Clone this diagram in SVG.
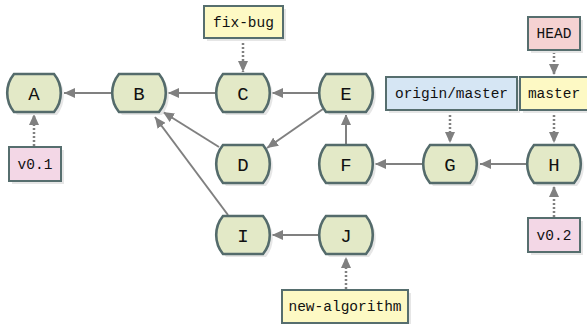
<svg xmlns="http://www.w3.org/2000/svg" width="587" height="324" viewBox="0 0 587 324">
<defs>
<style>
.node text{font-family:"Liberation Mono","DejaVu Sans Mono",monospace;font-size:19px;text-anchor:middle;fill:#111}
.lab rect.s{fill:#e6e6e6}
.lab rect.b{stroke:#566e6e;stroke-width:2}
.lab text{font-family:"Liberation Mono","DejaVu Sans Mono",monospace;font-size:14.5px;text-anchor:middle;fill:#111}
.y{fill:#fdf9c4}.p{fill:#f3d7e6}.r{fill:#f5d2d2}.bl{fill:#d6e6f4}
.e{stroke:#808080;stroke-width:2;fill:none;marker-end:url(#ah)}
.d{stroke:#808080;stroke-width:2.5;stroke-dasharray:2 2;fill:none;marker-end:url(#ah)}
</style>
<marker id="ah" viewBox="0 0 11 10" refX="11" refY="5" markerWidth="11" markerHeight="10" markerUnits="userSpaceOnUse" orient="auto">
<path d="M0,0 L11,5 L0,10 z" fill="#808080"/>
</marker>
<path id="hx" d="M-20,-19 H20 A30 30 0 0 1 20,19 H-20 A30 30 0 0 1 -20,-19 Z"/>
</defs>
<g id="connectors">
<line class="e" x1="111" y1="93" x2="64" y2="93"/>
<line class="e" x1="215" y1="93" x2="168" y2="93"/>
<line class="e" x1="318" y1="93" x2="272" y2="93"/>
<line class="e" x1="323" y1="109" x2="267" y2="148"/>
<line class="e" x1="219" y1="147" x2="163" y2="112"/>
<line class="e" x1="228" y1="215" x2="155" y2="117"/>
<line class="e" x1="346" y1="145" x2="346" y2="114"/>
<line class="e" x1="422" y1="164" x2="375" y2="164"/>
<line class="e" x1="526" y1="164" x2="480" y2="164"/>
<line class="e" x1="318" y1="235" x2="272" y2="235"/>
<line class="d" x1="243" y1="39" x2="243" y2="72"/>
<line class="d" x1="34" y1="146" x2="34" y2="114"/>
<line class="d" x1="554" y1="52" x2="554" y2="75"/>
<line class="d" x1="450" y1="111" x2="450" y2="143"/>
<line class="d" x1="554" y1="111" x2="554" y2="143"/>
<line class="d" x1="554" y1="217" x2="554" y2="186"/>
<line class="d" x1="346" y1="289" x2="346" y2="257"/>
</g>
<g id="A" class="node" transform="translate(34,93)"><use href="#hx" transform="translate(3,3)" fill="#e6e6e6"/><use href="#hx" fill="#e3e9c7" stroke="#546b6b" stroke-width="2.6"/><text y="6.5">A</text></g>
<g id="B" class="node" transform="translate(139,93)"><use href="#hx" transform="translate(3,3)" fill="#e6e6e6"/><use href="#hx" fill="#e3e9c7" stroke="#546b6b" stroke-width="2.6"/><text y="6.5">B</text></g>
<g id="C" class="node" transform="translate(243,93)"><use href="#hx" transform="translate(3,3)" fill="#e6e6e6"/><use href="#hx" fill="#e3e9c7" stroke="#546b6b" stroke-width="2.6"/><text y="6.5">C</text></g>
<g id="D" class="node" transform="translate(243,164)"><use href="#hx" transform="translate(3,3)" fill="#e6e6e6"/><use href="#hx" fill="#e3e9c7" stroke="#546b6b" stroke-width="2.6"/><text y="6.5">D</text></g>
<g id="E" class="node" transform="translate(346,93)"><use href="#hx" transform="translate(3,3)" fill="#e6e6e6"/><use href="#hx" fill="#e3e9c7" stroke="#546b6b" stroke-width="2.6"/><text y="6.5">E</text></g>
<g id="F" class="node" transform="translate(346,164)"><use href="#hx" transform="translate(3,3)" fill="#e6e6e6"/><use href="#hx" fill="#e3e9c7" stroke="#546b6b" stroke-width="2.6"/><text y="6.5">F</text></g>
<g id="G" class="node" transform="translate(450,164)"><use href="#hx" transform="translate(3,3)" fill="#e6e6e6"/><use href="#hx" fill="#e3e9c7" stroke="#546b6b" stroke-width="2.6"/><text y="6.5">G</text></g>
<g id="H" class="node" transform="translate(554,164)"><use href="#hx" transform="translate(3,3)" fill="#e6e6e6"/><use href="#hx" fill="#e3e9c7" stroke="#546b6b" stroke-width="2.6"/><text y="6.5">H</text></g>
<g id="I" class="node" transform="translate(243,235)"><use href="#hx" transform="translate(3,3)" fill="#e6e6e6"/><use href="#hx" fill="#e3e9c7" stroke="#546b6b" stroke-width="2.6"/><text y="6.5">I</text></g>
<g id="J" class="node" transform="translate(346,235)"><use href="#hx" transform="translate(3,3)" fill="#e6e6e6"/><use href="#hx" fill="#e3e9c7" stroke="#546b6b" stroke-width="2.6"/><text y="6.5">J</text></g>
<g id="fix-bug" class="lab"><rect class="s" x="207" y="9" width="79" height="32"/><rect class="b y" x="204" y="6" width="79" height="32"/><text x="243.5" y="27">fix-bug</text></g>
<g id="v0.1" class="lab"><rect class="s" x="12" y="150" width="52" height="34"/><rect class="b p" x="9" y="147" width="52" height="34"/><text x="35" y="169">v0.1</text></g>
<g id="HEAD" class="lab"><rect class="s" x="531" y="20" width="52" height="33"/><rect class="b r" x="528" y="17" width="52" height="33"/><text x="554" y="38">HEAD</text></g>
<g id="origin-master" class="lab"><rect class="s" x="389" y="80" width="131" height="33"/><rect class="b bl" x="386" y="77" width="131" height="33"/><text x="451.5" y="98">origin/master</text></g>
<g id="master" class="lab"><rect class="s" x="523" y="80" width="70" height="33"/><rect class="b y" x="520" y="77" width="70" height="33"/><text x="554" y="98">master</text></g>
<g id="v0.2" class="lab"><rect class="s" x="531" y="221" width="52" height="34"/><rect class="b p" x="528" y="218" width="52" height="34"/><text x="554" y="240">v0.2</text></g>
<g id="new-algorithm" class="lab"><rect class="s" x="285" y="293" width="126" height="33"/><rect class="b y" x="282" y="290" width="126" height="33"/><text x="345" y="311">new-algorithm</text></g>
</svg>
